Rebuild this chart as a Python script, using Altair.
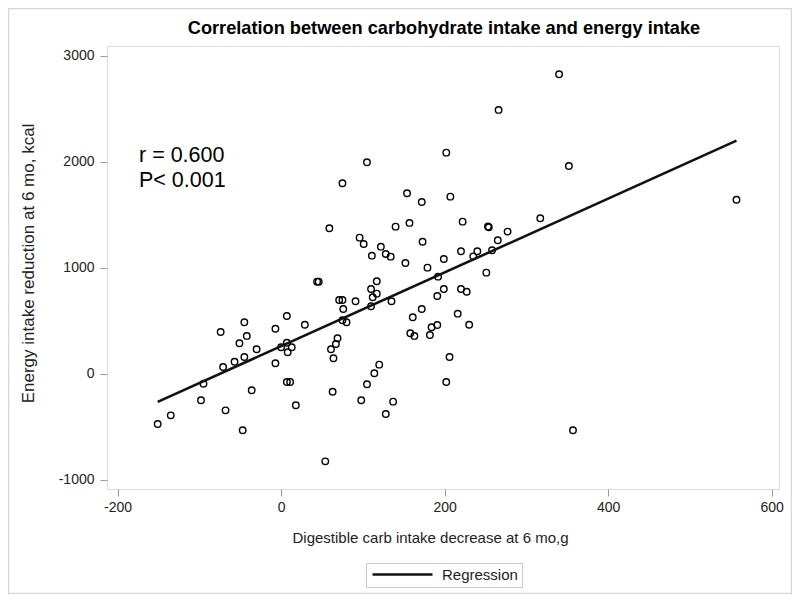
import altair as alt
import pandas as pd

# Digestible carb intake decrease at 6 mo (g)
carb = [-151, -135, -98, -95, -74, -71, -68, -57, -51, -45, -42, -45, -47, -36, -30,
        -7, -7, 0, 7, 7, 8, 13, 7, 11, 18, 29, 44, 46, 54, 63, 61, 64, 67, 69, 71,
        75, 76, 75, 80, 91, 98, 105, 110, 112, 117, 117, 110, 114, 120, 128, 137,
        135, 152, 161, 158, 163, 172, 179, 182, 184, 191, 191, 192, 199, 251, 199,
        220, 227, 216, 230, 206, 202, 357, 105, 75, 154, 172, 59, 140, 157, 173, 96,
        101, 122, 111, 128, 134, 340, 266, 202, 352, 557, 207, 222, 254, 253, 317,
        277, 265, 220, 240, 235, 258]
# Energy intake reduction at 6 mo (kcal)
energy = [-472, -390, -248, -92, 396, 66, -343, 116, 290, 488, 359, 160, -531, -154, 233,
          427, 101, 252, 547, 295, 205, 252, -76, -76, -295, 465, 871, 871, -824, -167, 233,
          148, 283, 337, 698, 698, 613, 507, 488, 686, -248, -97, 802, 724, 875, 758, 639,
          7, 88, -377, -261, 686, 1047, 535, 384, 359, 613, 1003, 368, 441, 462, 736, 918,
          1085, 956, 802, 802, 776, 569, 465, 160, -76, -531, 1997, 1799, 1705, 1623, 1375,
          1390, 1425, 1248, 1286, 1226, 1201, 1116, 1132, 1107, 2827, 2491, 2088, 1962, 1644,
          1673, 1437, 1384, 1391, 1469, 1343, 1261, 1158, 1158, 1110, 1167]

x_ticks = [-200, 0, 200, 400, 600]
y_ticks = [-1000, 0, 1000, 2000, 3000]
annotation = ["r = 0.600\nP< 0.001"]
chart_title = ["Correlation between carbohydrate intake and energy intake"]
series_name = ["Regression"]

df = pd.DataFrame({"carb": carb, "energy": energy})
ann_df = pd.DataFrame({"label": annotation})
title_df = pd.DataFrame({"label": chart_title})
frame_df = pd.DataFrame({"k": [0]})

FONT = "Liberation Sans"

xscale = alt.Scale(domain=[-213, 609], nice=False, zero=False)
yscale = alt.Scale(domain=[-1085, 3094], nice=False, zero=False)

xaxis = alt.Axis(values=x_ticks, title="Digestible carb intake decrease at 6 mo,g",
                 labelExpr="toString(datum.value)",
                 grid=False, domain=False, tickSize=7, tickColor="#9a9a9a",
                 labelPadding=4, labelFontSize=14, labelColor="#222",
                 titleFontSize=15, titleFontWeight="normal", titleColor="#222",
                 titlePadding=16, titleX=323, labelFont=FONT, titleFont=FONT)
yaxis = alt.Axis(values=y_ticks, title="Energy intake reduction at 6 mo, kcal",
                 labelExpr="toString(datum.value)",
                 grid=False, domain=False, tickSize=7, tickColor="#9a9a9a",
                 labelPadding=6, labelFontSize=14, labelColor="#222",
                 titleFontSize=17, titleFontWeight="normal", titleColor="#222",
                 titlePadding=21, titleY=217, labelFont=FONT, titleFont=FONT)

points = alt.Chart(df).mark_point(
    shape="circle", filled=False, stroke="black", strokeWidth=1.4, size=42, opacity=1
).encode(
    x=alt.X("carb:Q", scale=xscale, axis=xaxis),
    y=alt.Y("energy:Q", scale=yscale, axis=yaxis),
)

line = alt.Chart(df).transform_regression(
    "carb", "energy"
).transform_calculate(
    series="'" + series_name[0] + "'"
).mark_line(strokeWidth=2.6).encode(
    x=alt.X("carb:Q", scale=xscale),
    y=alt.Y("energy:Q", scale=yscale),
    color=alt.Color("series:N", scale=alt.Scale(domain=series_name, range=["#111111"]),
                    legend=alt.Legend(orient="none", legendX=259, legendY=517,
                                      direction="horizontal", title=None,
                                      symbolType="M-1,0H11", symbolSize=100,
                                      symbolStrokeWidth=2.6, labelFontSize=15,
                                      labelFont=FONT, labelColor="#222",
                                      strokeColor="#c8c8c8", fillColor="white",
                                      padding=4, labelOffset=57)),
)

text = alt.Chart(ann_df).mark_text(
    align="left", baseline="alphabetic", fontSize=21.5, font=FONT,
    lineBreak="\n", lineHeight=25, color="black"
).encode(x=alt.value(32), y=alt.value(116), text="label:N")

title = alt.Chart(title_df).mark_text(
    align="center", baseline="alphabetic", fontSize=18.2, font=FONT,
    fontWeight="bold", color="black"
).encode(x=alt.value(337), y=alt.value(-12), text="label:N")

frame = alt.Chart(frame_df).mark_rect(
    fill="white", fillOpacity=0, stroke="#d6d6d6", strokeWidth=1.5
).encode(x=alt.value(-98.5), x2=alt.value(684.5), y=alt.value(-37.5), y2=alt.value(547.5))

chart = alt.layer(frame, points, line, text, title).properties(
    width=672, height=443,
    autosize=alt.AutoSizeParams(type="none"),
    padding={"left": 99, "top": 38, "right": 13, "bottom": 105},
).configure_view(stroke="#a6a6a6", strokeWidth=1.2).configure(background="white")

chart.save("out.html", embed_options={"renderer": "svg", "actions": False})
